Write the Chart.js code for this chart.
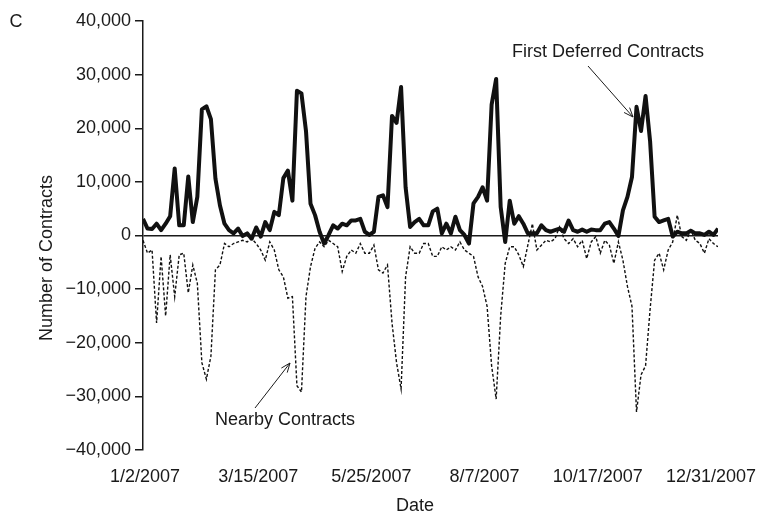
<!DOCTYPE html>
<html>
<head>
<meta charset="utf-8">
<script src="https://cdn.jsdelivr.net/npm/chart.js@4.4.1/dist/chart.umd.min.js"></script>
<style>
  body { margin: 0; background: #fff; }
  #wrap { width: 768px; height: 513px; position: relative; }
</style>
</head>
<body>
<div id="wrap"><canvas id="contractsChart"></canvas></div>
<script>
// tick labels on the date axis (one every 50 trading days)
const dateLabels = ['1/2/2007', '3/15/2007', '5/25/2007', '8/7/2007', '10/17/2007', '12/31/2007'];
const tickDays = [0, 50, 100, 150, 200, 250];
const dayStep = 2; // one reading every 2 trading days

// First deferred contracts (solid line)
const firstDeferred = [
  3100, 1300, 1200, 2200, 1000, 2200, 3600, 12500, 1900, 1900,
  11000, 2500, 7200, 23500, 24100, 21700, 10600, 5600, 2200, 1000,
  400, 1300, -100, 400, -600, 1500, -200, 2500, 1000, 4400,
  3800, 10700, 12100, 6500, 27000, 26500, 19500, 5900, 3800, 700,
  -1500, 100, 1900, 1300, 2200, 1900, 2800, 2800, 3100, 700,
  100, 700, 7200, 7500, 5300, 22300, 21000, 27700, 9000, 1600,
  2500, 3100, 1900, 1900, 4500, 5000, 400, 2200, 400, 3500,
  1000, 100, -1500, 6000, 7200, 9000, 6500, 24400, 29200, 5300,
  -1200, 6500, 2200, 3600, 2200, 400, 400, 400, 1900, 1000,
  700, 1000, 1300, 700, 2800, 1000, 700, 1100, 700, 1100,
  1000, 1000, 2200, 2500, 1300, -100, 4700, 7200, 10900, 24000,
  19500, 26000, 17600, 3500, 2500, 2800, 3100, -200, 700, 400,
  400, 900, 400, 400, 100, 700, 100, 1300
];

// Nearby contracts (dashed line)
const nearby = [
  -900, -3300, -2700, -16300, -3900, -15000, -3600, -11400, -3600, -3300,
  -10700, -5500, -8900, -23700, -26800, -22500, -6400, -5500, -1500, -2100,
  -1500, -1200, -900, -1200, -600, -1500, -2700, -4600, -1200, -2700,
  -6400, -7700, -11700, -11400, -28000, -29200, -11400, -5800, -2400, -1200,
  -2100, -900, -1500, -2100, -6700, -3900, -2700, -3300, -1500, -3300,
  -3300, -1800, -6400, -7000, -5500, -16300, -23700, -28600, -7700, -2100,
  -3300, -3300, -1500, -1500, -3900, -3900, -2100, -2700, -2100, -2700,
  -1200, -2700, -3300, -3900, -7700, -9500, -13200, -24300, -30500, -15000,
  -5200, -2100, -2100, -3600, -5800, -1800, 2200, -2700, -1800, -900,
  -1200, -600, 1600, -600, -1500, -600, -2100, -900, -4300, -1200,
  -200, -3300, -900, -1800, -5200, -1200, -4600, -9500, -13200, -32900,
  -26000, -24300, -13800, -4600, -3300, -6400, -2700, -1200, 3800, -200,
  -900, 1000, -900, -1500, -3300, -600, -1500, -2100
];

function toPoints(values) {
  return values.map((v, i) => ({ x: i * dayStep, y: v }));
}

function formatCount(v) {
  const s = Math.abs(v).toLocaleString('en-US');
  return v < 0 ? '\u2212' + s : s;
}

const FONT = "'Liberation Sans', Arial, sans-serif";
const INK = '#1a1a1a';

function drawArrow(ctx, x1, y1, x2, y2) {
  const ang = Math.atan2(y2 - y1, x2 - x1);
  const len = 10, spread = 0.38;
  ctx.beginPath();
  ctx.moveTo(x1, y1);
  ctx.lineTo(x2, y2);
  ctx.moveTo(x2 - len * Math.cos(ang - spread), y2 - len * Math.sin(ang - spread));
  ctx.lineTo(x2, y2);
  ctx.lineTo(x2 - len * Math.cos(ang + spread), y2 - len * Math.sin(ang + spread));
  ctx.stroke();
}

// panel letter, axis titles and the two callouts
const labelsPlugin = {
  id: 'labels',
  afterDraw(chart) {
    const ctx = chart.ctx;
    ctx.save();
    ctx.fillStyle = INK;
    ctx.strokeStyle = INK;
    ctx.lineWidth = 1;
    ctx.font = '18px ' + FONT;
    ctx.textAlign = 'center';
    ctx.textBaseline = 'middle';

    ctx.fillText('C', 16, 22);
    ctx.fillText('Date', 415, 506);
    ctx.fillText('First Deferred Contracts', 608, 52);
    ctx.fillText('Nearby Contracts', 285, 420);

    ctx.save();
    ctx.translate(47, 258);
    ctx.rotate(-Math.PI / 2);
    ctx.fillText('Number of Contracts', 0, 0);
    ctx.restore();

    drawArrow(ctx, 588, 66, 633, 117);
    drawArrow(ctx, 255, 408, 290, 363);
    ctx.restore();
  }
};

Chart.defaults.font.family = FONT;
Chart.defaults.color = INK;

new Chart(document.getElementById('contractsChart').getContext('2d'), {
  type: 'line',
  data: {
    datasets: [
      {
        label: 'First Deferred Contracts',
        data: toPoints(firstDeferred),
        borderColor: '#111',
        borderWidth: 4,
        pointRadius: 0,
        tension: 0,
        borderJoinStyle: 'round'
      },
      {
        label: 'Nearby Contracts',
        data: toPoints(nearby),
        borderColor: '#111',
        borderWidth: 1.4,
        borderDash: [3, 2],
        pointRadius: 0,
        tension: 0
      }
    ]
  },
  options: {
    responsive: true,
    maintainAspectRatio: false,
    animation: false,
    layout: { padding: { top: 21, right: 50, left: 0, bottom: 0 } },
    plugins: {
      legend: { display: false },
      tooltip: { enabled: false }
    },
    scales: {
      x: {
        type: 'linear',
        min: 0,
        max: 254,
        grid: { display: false },
        border: { display: false },
        afterBuildTicks: scale => { scale.ticks = tickDays.map(v => ({ value: v })); },
        afterFit: scale => { scale.height = 63; },
        ticks: {
          autoSkip: false,
          maxRotation: 0,
          padding: 8,
          labelOffset: 2,
          font: { size: 18 },
          callback: v => dateLabels[tickDays.indexOf(v)]
        }
      },
      y: {
        min: -40000,
        max: 40000,
        afterFit: scale => { scale.width = 143; },
        border: { display: true, color: INK, width: 1.5 },
        grid: {
          drawOnChartArea: true,
          color: c => (c.tick && c.tick.value === 0 ? INK : 'rgba(0,0,0,0)'),
          lineWidth: 1.5,
          tickColor: INK,
          tickLength: 8
        },
        ticks: {
          stepSize: 10000,
          padding: 4,
          font: { size: 18 },
          callback: v => formatCount(v)
        }
      }
    }
  },
  plugins: [labelsPlugin]
});
</script>
</body>
</html>
